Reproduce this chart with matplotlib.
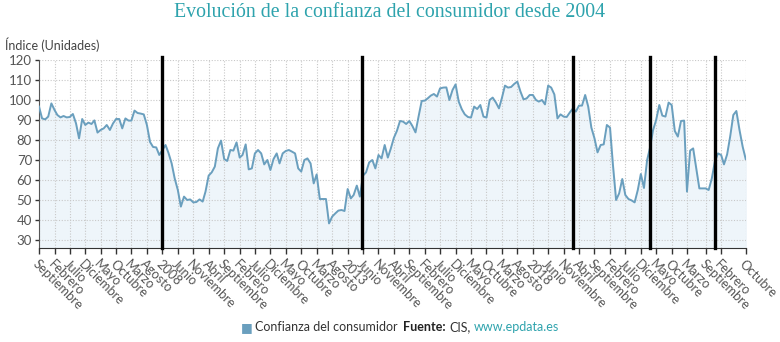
import matplotlib.pyplot as plt
import pandas as pd

# Consumer confidence index, monthly from Sept 2004
values = [96.7, 90.8, 90.3, 91.7, 98.3, 95.0, 92.5, 91.3, 92.0, 91.3,
          91.5, 93.0, 88.3, 80.8, 90.5, 87.5, 88.7, 88.0, 89.8, 83.7,
          85.0, 85.8, 87.5, 85.0, 88.3, 90.5, 90.5, 85.8, 90.8, 89.7,
          89.7, 94.7, 93.5, 93.2, 92.8, 87.5, 79.0, 76.5, 76.3, 72.5,
          75.0, 77.5, 73.5, 68.3, 60.8, 55.0, 46.7, 51.7, 50.0, 50.3,
          48.8, 49.0, 50.3, 49.2, 54.2, 62.2, 63.8, 66.7, 75.8, 79.7,
          70.5, 69.5, 75.0, 74.7, 78.8, 71.2, 72.5, 77.8, 65.3, 65.8,
          73.3, 75.0, 73.3, 67.8, 70.0, 65.0, 70.5, 73.3, 68.3, 73.3,
          74.5, 75.0, 74.2, 73.3, 65.8, 64.2, 70.0, 70.8, 68.3, 58.3,
          62.8, 50.5, 50.5, 50.5, 38.3, 41.7, 43.3, 44.7, 45.0, 44.5,
          55.5, 50.8, 52.5, 57.2, 51.7, 62.2, 63.8, 68.8, 70.0, 65.8,
          72.5, 70.8, 77.5, 71.2, 75.5, 81.0, 84.5, 89.5, 89.2, 88.0,
          89.5, 87.0, 83.8, 91.7, 99.5, 99.7, 100.8, 102.2, 103.0, 101.7,
          105.8, 106.2, 106.3, 100.0, 105.0, 107.8, 99.2, 95.3, 92.8, 91.5,
          91.2, 96.7, 95.5, 97.5, 91.7, 91.2, 100.0, 101.2, 98.8, 95.8,
          100.8, 107.2, 106.2, 106.5, 108.0, 109.2, 104.2, 100.3, 100.8, 102.5,
          102.5, 100.0, 99.2, 100.0, 97.8, 107.2, 106.2, 102.8, 90.8, 92.8,
          91.7, 91.5, 93.8, 95.8, 94.2, 97.2, 97.2, 102.5, 96.7, 86.2,
          80.8, 73.8, 77.5, 77.8, 87.5, 86.2, 67.5, 50.0, 53.3, 60.5,
          52.5, 50.5, 49.8, 48.8, 55.0, 63.0, 56.0, 70.0, 76.0, 85.0,
          90.0, 97.5, 92.2, 91.7, 98.7, 97.5, 84.5, 81.7, 89.5, 89.7,
          54.2, 74.7, 75.8, 65.8, 55.8, 55.8, 55.8, 55.0, 60.8, 69.2,
          73.3, 72.5, 67.8, 72.8, 81.7, 92.5, 94.5, 85.0, 76.7, 70.5]
dates = pd.date_range('2004-09-01', periods=len(values), freq='MS')

tick_dates = pd.to_datetime(
    list(pd.date_range('2004-09-01', '2022-03-01', freq='5MS'))
    + ['2022-09-01', '2023-02-01', '2023-10-01'])
tick_labels = ['Septiembre', 'Febrero', 'Julio', 'Diciembre', 'Mayo', 'Octubre',
               'Marzo', 'Agosto', '2008', 'Junio', 'Noviembre', 'Abril',
               'Septiembre', 'Febrero', 'Julio', 'Diciembre', 'Mayo', 'Octubre',
               'Marzo', 'Agosto', '2013', 'Junio', 'Noviembre', 'Abril',
               'Septiembre', 'Febrero', 'Julio', 'Diciembre', 'Mayo', 'Octubre',
               'Marzo', 'Agosto', '2018', 'Junio', 'Noviembre', 'Abril',
               'Septiembre', 'Febrero', 'Julio', 'Diciembre', 'Mayo', 'Octubre',
               'Marzo', 'Septiembre', 'Febrero', 'Octubre']

# black marker lines drawn over the chart
marks = pd.to_datetime(['2008-01-01', '2013-05-25', '2019-01-28',
                        '2021-02-28', '2022-12-07'])

line_col = '#6a9fbe'
teal = '#2ea3ad'
plt.rcParams['font.family'] = ['Lato', 'DejaVu Sans']

fig = plt.figure(figsize=(7.8, 3.42), dpi=100)
ax = fig.add_axes([0.05, 0.2757, 0.906, 0.5489])

ax.fill_between(dates, values, 0, color='#eef5fa', zorder=1)
ax.plot(dates, values, color=line_col, lw=1.4, zorder=3)

ax.set_ylim(26.15, 120)
ax.set_xlim(dates[0], dates[-1])
ax.set_yticks(range(30, 121, 10))
ax.set_xticks(tick_dates)
ax.set_xticklabels(tick_labels, rotation=-45, ha='left', va='top',
                   rotation_mode='anchor')

ax.grid(True, color='#c8c8c8', linestyle=(0, (1, 1.5)), lw=0.8, zorder=0)
ax.tick_params(axis='x', colors='#333333', labelcolor='#555555', labelsize=9.3,
               length=4, width=1, pad=3)
ax.tick_params(axis='y', colors='#333333', labelcolor='#555555', labelsize=9.5,
               length=3, width=1, pad=2)
for s in ['top', 'right']:
    ax.spines[s].set_visible(False)
ax.spines['bottom'].set_color('#333333')
ax.spines['left'].set_color('#555555')
ax.spines['left'].set_linestyle((0, (1, 1)))

for d in marks:
    ax.axvline(d, ymin=0, ymax=1.016, color='black', lw=2.4, clip_on=False, zorder=5)

fig.text(0.5, 0.962, 'Evolución de la confianza del consumidor desde 2004',
         ha='center', va='center', color=teal, fontsize=14.3,
         family='Liberation Serif')
fig.text(0.006, 0.87, 'Índice (Unidades)', ha='left', va='center',
         color='#444444', fontsize=9)

# legend and source line at the bottom
fig.text(0.316, 0.044, '■', ha='center', va='center', color=line_col, fontsize=9)
fig.text(0.327, 0.044, 'Confianza del consumidor', ha='left', va='center',
         color='#333333', fontsize=9)
src = fig.text(0.517, 0.044, 'Fuente:', ha='left', va='center', color='#222222',
               fontsize=9, fontweight='bold')
cis = ax.annotate('CIS,', xy=(1, 0.5), xycoords=src, xytext=(2.5, 0),
                  textcoords='offset points', ha='left', va='center',
                  color='#333333', fontsize=9, annotation_clip=False)
ax.annotate('www.epdata.es', xy=(1, 0.5), xycoords=cis, xytext=(2.5, 0),
            textcoords='offset points', ha='left', va='center', color=teal,
            fontsize=9, annotation_clip=False)

fig.savefig('out.png', dpi=100)
